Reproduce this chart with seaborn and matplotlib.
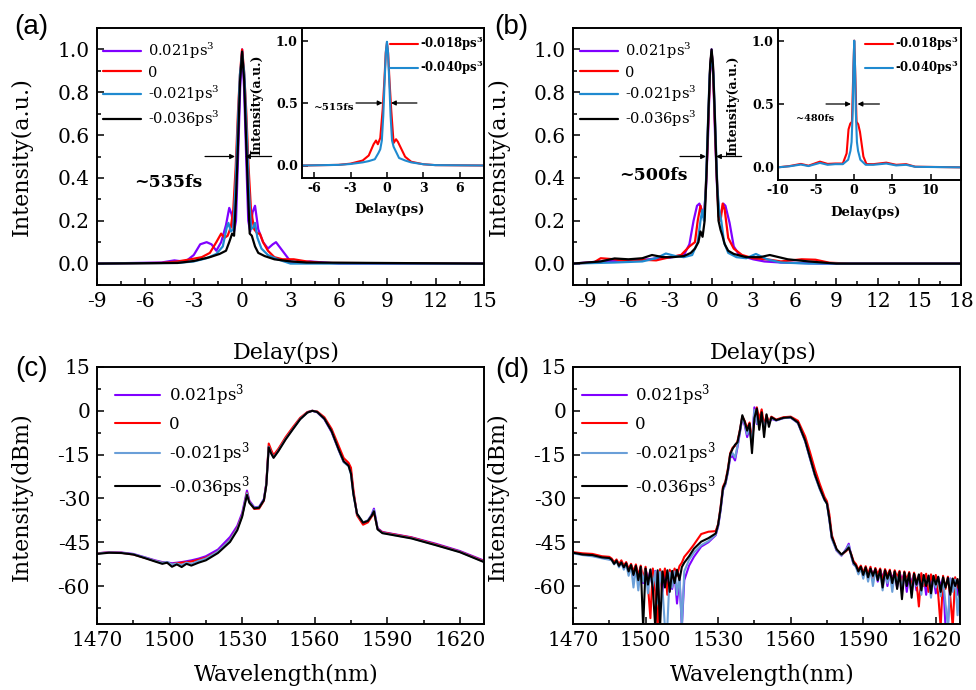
import numpy as np
import pandas as pd
import seaborn as sns
import matplotlib.pyplot as plt
from matplotlib.ticker import MultipleLocator

sns.set_style('ticks')
plt.rcParams['font.family'] = ['DejaVu Serif']
plt.rcParams['mathtext.fontset'] = 'dejavuserif'
plt.rcParams['axes.unicode_minus'] = False
plt.rcParams['text.color'] = 'black'
plt.rcParams['axes.labelcolor'] = 'black'

labels = ['0.021ps$^3$', '0', '-0.021ps$^3$', '-0.036ps$^3$']
colors_ac = ['#8000ff', '#ff0000', '#1f8ad0', '#000000']
colors_sp = ['#8000ff', '#ff0000', '#6a9fd8', '#000000']
inset_labels = [r'-0.018ps$^\mathbf{3}$', r'-0.040ps$^\mathbf{3}$']
inset_colors = ['#ff0000', '#1f8ad0']

# ---- (a) autocorrelation traces
a_x = [
    [-9, -5, -4.2, -3.9, -3.5, -3.0, -2.6, -2.2, -1.9, -1.6, -1.3, -1.0, -0.8, -0.65, -0.5, -0.38, -0.25, -0.12, 0,
     0.12, 0.25, 0.38, 0.5, 0.65, 0.8, 1.0, 1.3, 1.6, 1.9, 2.1, 2.5, 3.0, 3.5, 4.2, 6, 15],
    [-9, -5, -4, -3.2, -2.5, -2.0, -1.6, -1.3, -1.1, -0.9, -0.7, -0.55, -0.4, -0.25, -0.12, 0,
     0.12, 0.25, 0.4, 0.55, 0.75, 0.95, 1.1, 1.3, 1.6, 2.0, 2.5, 3.2, 4, 5, 15],
    [-9, -4, -3, -2.2, -1.6, -1.2, -0.95, -0.85, -0.7, -0.55, -0.4, -0.28, -0.14, 0,
     0.14, 0.28, 0.4, 0.55, 0.7, 0.8, 0.95, 1.2, 1.6, 2.2, 3, 4, 15],
    [-9, -4, -3, -2, -1.4, -1.0, -0.8, -0.62, -0.5, -0.38, -0.26, -0.13, 0,
     0.13, 0.26, 0.38, 0.47, 0.6, 0.8, 1.0, 1.4, 2, 3, 4, 15],
]
a_y = [
    [0.0, 0.005, 0.015, 0.012, 0.01, 0.04, 0.09, 0.10, 0.09, 0.06, 0.10, 0.18, 0.26, 0.23, 0.15, 0.2, 0.5, 0.82, 1.0,
     0.82, 0.5, 0.2, 0.15, 0.24, 0.27, 0.16, 0.10, 0.07, 0.09, 0.10, 0.06, 0.01, 0.005, 0.01, 0.0, 0.0],
    [0.0, 0.003, 0.01, 0.02, 0.03, 0.05, 0.1, 0.14, 0.12, 0.13, 0.17, 0.25, 0.45, 0.72, 0.9, 1.0,
     0.9, 0.72, 0.45, 0.25, 0.16, 0.14, 0.14, 0.1, 0.06, 0.03, 0.02, 0.02, 0.01, 0.003, 0.0],
    [0.0, 0.003, 0.01, 0.025, 0.045, 0.08, 0.17, 0.19, 0.15, 0.16, 0.38, 0.62, 0.88, 0.98,
     0.88, 0.62, 0.38, 0.16, 0.17, 0.19, 0.12, 0.07, 0.04, 0.02, 0.0, 0.0, 0.0],
    [0.0, 0.003, 0.012, 0.03, 0.045, 0.06, 0.1, 0.14, 0.13, 0.3, 0.55, 0.85, 0.99,
     0.85, 0.55, 0.3, 0.14, 0.13, 0.08, 0.05, 0.035, 0.02, 0.01, 0.005, 0.0],
]
ai_x = [
    [-7, -4, -3, -2, -1.5, -1.1, -0.9, -0.75, -0.55, -0.35, -0.2, -0.1, 0,
     0.1, 0.2, 0.35, 0.55, 0.75, 0.9, 1.1, 1.5, 2, 3, 4, 8],
    [-7, -4, -3, -2, -1.5, -1.0, -0.7, -0.55, -0.42, -0.3, -0.18, -0.08, 0,
     0.08, 0.18, 0.3, 0.42, 0.55, 0.7, 1.0, 1.5, 2, 3, 4, 8],
]
ai_y = [
    [0.0, 0.005, 0.015, 0.04, 0.08, 0.17, 0.2, 0.17, 0.22, 0.45, 0.7, 0.9, 0.98,
     0.9, 0.7, 0.45, 0.18, 0.21, 0.19, 0.15, 0.07, 0.03, 0.01, 0.003, 0.0],
    [0.0, 0.005, 0.012, 0.025, 0.035, 0.05, 0.1, 0.13, 0.2, 0.4, 0.7, 0.92, 0.99,
     0.92, 0.7, 0.4, 0.2, 0.15, 0.12, 0.06, 0.04, 0.025, 0.01, 0.003, 0.0],
]

# ---- (b) autocorrelation traces
b_x = [
    [-10, -8, -6, -4.5, -3.5, -3.0, -2.5, -2.0, -1.6, -1.3, -1.05, -0.88, -0.7, -0.55, -0.4, -0.25, -0.12, 0,
     0.12, 0.25, 0.4, 0.55, 0.7, 0.85, 1.0, 1.3, 1.6, 2.0, 2.5, 3.0, 3.8, 5, 8, 18],
    [-10, -8.5, -8, -7, -6, -5, -4, -3, -2.2, -1.6, -1.2, -1.0, -0.8, -0.65, -0.5, -0.35, -0.22, -0.1, 0,
     0.1, 0.22, 0.35, 0.5, 0.65, 0.8, 0.95, 1.2, 1.6, 2.2, 3, 4, 5, 6.5, 7.5, 8.5, 10, 18],
    [-10, -7, -5, -4, -3.3, -2.6, -2.0, -1.4, -1.0, -0.8, -0.67, -0.55, -0.42, -0.28, -0.14, 0,
     0.14, 0.28, 0.42, 0.55, 0.7, 0.9, 1.2, 1.8, 2.5, 3.2, 4, 5, 7, 18],
    [-10, -8, -7, -6, -5, -4.3, -3.5, -2.8, -2.0, -1.5, -1.2, -0.95, -0.8, -0.65, -0.5, -0.35, -0.22, -0.1, 0,
     0.1, 0.22, 0.35, 0.5, 0.65, 0.77, 0.95, 1.2, 1.6, 2.5, 3.5, 4.2, 5.5, 7, 9, 18],
]
b_y = [
    [0.0, 0.01, 0.015, 0.02, 0.03, 0.028, 0.035, 0.04, 0.09, 0.2, 0.27, 0.28, 0.25, 0.23, 0.35, 0.6, 0.88, 1.0,
     0.88, 0.6, 0.35, 0.22, 0.24, 0.28, 0.27, 0.19, 0.08, 0.04, 0.03, 0.02, 0.01, 0.005, 0.0, 0.0],
    [0.0, 0.005, 0.025, 0.02, 0.01, 0.018, 0.015, 0.03, 0.04, 0.08, 0.1, 0.2, 0.27, 0.22, 0.24, 0.45, 0.7, 0.92, 0.99,
     0.92, 0.7, 0.45, 0.22, 0.2, 0.28, 0.25, 0.12, 0.07, 0.04, 0.025, 0.02, 0.01, 0.02, 0.018, 0.004, 0.0, 0.0],
    [0.0, 0.005, 0.01, 0.025, 0.047, 0.035, 0.03, 0.04, 0.1, 0.2, 0.25, 0.2, 0.35, 0.62, 0.88, 0.99,
     0.88, 0.62, 0.35, 0.25, 0.2, 0.1, 0.05, 0.03, 0.025, 0.045, 0.02, 0.005, 0.0, 0.0],
    [0.0, 0.01, 0.024, 0.02, 0.025, 0.04, 0.03, 0.03, 0.035, 0.05, 0.07, 0.1, 0.15, 0.125, 0.2, 0.45, 0.72, 0.93, 1.0,
     0.93, 0.72, 0.45, 0.2, 0.157, 0.133, 0.09, 0.06, 0.045, 0.03, 0.03, 0.04, 0.02, 0.01, 0.0, 0.0],
]
bi_x = [
    [-10, -8.5, -7, -6, -4.5, -3.5, -2.5, -1.5, -1.0, -0.75, -0.52, -0.3, -0.15, 0,
     0.15, 0.3, 0.52, 0.75, 1.2, 1.6, 2.5, 4.2, 5.5, 6.8, 8, 14],
    [-10, -8.5, -7, -6, -4.5, -3.5, -2.5, -1.5, -0.8, -0.5, -0.35, -0.2, -0.1, 0,
     0.1, 0.2, 0.35, 0.5, 0.8, 1.5, 2.5, 4.2, 5.5, 6.8, 8, 14],
]
bi_y = [
    [0.0, 0.01, 0.027, 0.013, 0.045, 0.027, 0.03, 0.03, 0.11, 0.3, 0.345, 0.36, 0.7, 1.0,
     0.7, 0.36, 0.34, 0.28, 0.085, 0.026, 0.025, 0.037, 0.02, 0.025, 0.005, 0.0],
    [0.0, 0.008, 0.022, 0.01, 0.035, 0.02, 0.025, 0.025, 0.06, 0.13, 0.2, 0.45, 0.8, 1.0,
     0.8, 0.45, 0.2, 0.13, 0.06, 0.02, 0.02, 0.03, 0.015, 0.02, 0.004, 0.0],
]

# ---- (c) spectra, dBm
c_wl = [1470, 1475, 1480, 1485, 1490, 1494, 1497, 1499, 1501, 1503, 1505, 1507, 1509, 1512, 1515, 1520, 1525,
        1528, 1530, 1531, 1532, 1533, 1535, 1537, 1539, 1540, 1541, 1542, 1543, 1545, 1548, 1551, 1554, 1557,
        1559, 1561, 1564, 1567, 1570, 1572, 1574, 1575, 1576, 1577.5, 1580, 1582, 1583.5, 1584.5, 1586, 1588,
        1590, 1600, 1610, 1620, 1630]
c_purple = [-48.8, -48.4, -48.5, -49.0, -50.2, -51.2, -51.8, -51.9, -52.2, -52.0, -51.8, -51.5, -51.2, -50.6,
            -49.8, -47.5, -43.2, -39.4, -35.0, -31.2, -27.3, -30.8, -33.0, -32.9, -30.2, -24.8, -12.2, -14.2,
            -15.8, -13.4, -9.4, -6.0, -2.7, -0.5, 0.0, -0.5, -2.9, -7.3, -13.6, -17.5, -18.6, -21.0, -28.0,
            -35.4, -38.5, -37.6, -35.6, -33.5, -40.2, -41.5, -41.8, -43.3, -45.5, -48.0, -51.3]
c_red = [-48.8, -48.5, -48.6, -49.2, -50.4, -51.4, -52.0, -52.1, -52.5, -52.2, -52.0, -51.8, -51.6, -51.0,
         -50.3, -48.2, -44.2, -40.2, -35.8, -32.0, -28.0, -31.2, -33.6, -33.5, -30.8, -25.0, -11.2, -13.4,
         -15.2, -13.0, -9.0, -5.6, -2.4, -0.4, 0.0, -0.2, -2.2, -6.2, -12.2, -16.2, -17.8, -19.5, -27.0,
         -35.8, -39.0, -38.2, -36.3, -34.8, -40.4, -41.6, -41.9, -43.4, -45.7, -48.2, -51.5]
c_blue = [-48.9, -48.5, -48.6, -49.1, -50.3, -51.4, -52.0, -51.8, -52.6, -52.3, -52.8, -52.0, -52.4, -51.4,
          -50.6, -48.2, -44.3, -40.4, -35.9, -32.0, -28.2, -31.3, -33.2, -33.0, -30.5, -25.2, -12.3, -14.4,
          -16.0, -13.6, -9.6, -6.2, -2.8, -0.6, 0.0, -0.4, -2.8, -7.1, -13.6, -17.6, -19.0, -21.8, -28.6,
          -35.3, -38.2, -37.5, -35.8, -34.0, -40.5, -41.8, -42.1, -43.6, -45.9, -48.3, -51.7]
c_black = [-49.0, -48.6, -48.7, -49.2, -50.5, -51.6, -52.4, -52.0, -53.4, -52.6, -53.5, -52.4, -53.0, -52.0,
           -51.2, -48.7, -44.9, -40.9, -36.3, -32.5, -28.8, -31.5, -33.4, -33.2, -30.6, -25.5, -12.5, -14.6,
           -16.1, -13.8, -9.8, -6.3, -2.9, -0.6, 0.0, -0.4, -2.7, -7.0, -13.4, -17.3, -18.8, -21.5, -28.5,
           -35.2, -38.3, -37.7, -36.0, -34.4, -40.6, -41.9, -42.2, -43.7, -46.0, -48.4, -51.8]

# ---- (d) spectra, dBm
d_wl = ([1470, 1474, 1478, 1482, 1485] + list(range(1486, 1517))
        + [1518, 1520, 1523, 1526, 1529, 1530, 1531, 1532, 1533, 1534, 1535, 1536, 1537, 1538, 1539]
        + list(range(1540, 1553))
        + [1554, 1557, 1560, 1563, 1566, 1568, 1570, 1572, 1574, 1575, 1576, 1577, 1579, 1581, 1583, 1584,
           1585, 1586]
        + list(range(1587, 1631)))
d_purple = ([-48.6, -49.2, -49.6, -50.3, -50.8]
            + [-51.0, -52.2, -51.4, -53.0, -52.0, -53.8, -52.4, -55.2, -53.0, -56.4, -53.4, -57.5, -54.0, -59.0,
               -54.2, -58.0, -54.6, -61.5, -54.8, -59.5, -55.0, -62.0, -55.2, -60.0, -55.5, -61.0, -56.0, -66.0,
               -57.0, -74.0, -58.0]
            + [-53.0, -50.0, -46.5, -45.0, -42.6, -39.6, -34.2, -27.2, -25.2, -21.2, -16.0, -15.5, -17.0, -12.5,
               -7.5]
            + [-2.5, -5.0, -9.0, -6.0, -11.0, 1.2, -4.5, -4.0, -2.5, -5.5, -3.0, -4.0, -2.8]
            + [-3.3, -2.5, -2.3, -4.2, -10.4, -16.3, -22.0, -26.6, -30.5, -31.6, -37.2, -43.6, -47.9, -49.6,
               -47.2, -45.5, -49.5, -52.6]
            + [-53.2, -55.5, -53.6, -56.5, -53.8, -57.2, -54.0, -56.0, -54.3, -58.5, -54.5, -57.0, -54.7, -60.0,
               -55.0, -57.5, -55.2, -60.5, -55.4, -58.0, -55.6, -62.0, -55.8, -59.0, -56.0, -61.5, -56.2, -59.0,
               -56.4, -63.0, -56.6, -60.0, -56.8, -62.5, -57.0, -60.0, -57.2, -74.0, -74.0, -57.4, -61.0, -57.6,
               -63.0, -57.8])
d_red = ([-48.4, -48.8, -49.0, -49.8, -50.0]
         + [-50.6, -51.8, -50.9, -52.5, -51.2, -53.0, -51.8, -54.2, -52.4, -55.0, -52.6, -56.5, -53.0, -57.5,
            -53.4, -60.0, -71.0, -54.0, -62.0, -74.0, -54.2, -58.0, -54.0, -63.0, -54.4, -57.5, -54.0, -56.5,
            -53.2, -52.0, -50.0]
         + [-48.0, -45.8, -42.2, -41.4, -41.2, -38.8, -33.0, -26.0, -24.2, -20.0, -14.5, -12.6, -12.0, -10.5,
            -6.5]
         + [-2.0, -3.5, -6.0, -4.0, -10.0, -3.0, 1.2, -3.0, 0.5, -5.0, -1.5, -4.0, -2.0]
         + [-3.0, -2.2, -2.0, -3.4, -8.8, -14.2, -20.0, -25.0, -29.5, -31.0, -35.5, -42.5, -47.6, -49.4, -48.0,
            -47.0, -49.0, -51.5]
         + [-52.5, -54.5, -53.0, -55.5, -53.2, -56.0, -53.4, -57.5, -53.8, -56.0, -54.0, -58.5, -54.2, -56.5,
            -54.4, -59.5, -54.6, -57.0, -54.8, -60.0, -55.0, -58.0, -55.2, -61.0, -55.4, -58.5, -67.0, -55.6,
            -60.0, -55.8, -62.0, -56.0, -59.0, -56.2, -63.0, -74.0, -56.5, -61.0, -56.8, -64.0, -74.0, -57.0,
            -60.5, -57.5])
d_blue = ([-48.8, -49.4, -49.8, -50.5, -51.0]
          + [-51.2, -52.6, -51.5, -53.6, -52.0, -54.4, -52.6, -56.5, -53.0, -60.5, -53.6, -61.5, -54.0, -58.5,
             -54.6, -62.5, -54.5, -60.0, -55.0, -66.0, -55.2, -61.0, -74.0, -74.0, -55.4, -60.5, -55.0, -63.0,
             -56.0, -74.0, -55.0]
          + [-51.0, -48.5, -46.0, -44.6, -42.4, -39.4, -34.0, -27.0, -25.0, -21.0, -15.5, -14.5, -16.0, -12.0,
             -7.2]
          + [-2.2, -4.5, -8.0, -5.5, -12.0, 0.3, -4.0, -5.0, -2.0, -6.0, -2.5, -4.5, -2.5]
          + [-3.3, -2.5, -2.3, -4.2, -10.5, -16.4, -22.2, -26.8, -30.6, -31.9, -37.5, -43.8, -47.8, -49.5,
             -47.5, -46.0, -49.6, -52.5]
          + [-53.5, -56.0, -54.0, -57.5, -54.2, -58.5, -54.5, -60.0, -54.8, -58.0, -55.0, -61.5, -55.2, -59.0,
             -55.4, -62.0, -55.6, -58.5, -55.8, -61.0, -56.0, -59.5, -56.2, -62.5, -56.4, -60.0, -56.5, -63.0,
             -56.6, -59.5, -56.8, -64.0, -57.0, -60.5, -57.2, -63.5, -57.4, -66.0, -74.0, -57.6, -62.0, -57.8,
             -70.0, -58.0])
d_black = ([-48.6, -49.2, -49.4, -50.2, -50.4]
           + [-51.0, -52.4, -51.3, -53.1, -51.9, -53.6, -52.2, -55.0, -52.8, -56.2, -53.1, -58.0, -53.4, -74.0,
              -54.0, -59.5, -54.3, -61.0, -74.0, -54.6, -74.0, -55.0, -60.5, -54.6, -62.0, -54.8, -59.0, -54.4,
              -58.0, -53.5, -52.0]
           + [-49.8, -47.2, -44.8, -43.6, -42.0, -39.0, -33.5, -26.5, -24.6, -20.5, -14.8, -13.0, -11.6, -10.8,
              -6.8]
           + [-1.5, -3.8, -6.8, -4.4, -14.5, -2.5, 0.8, -6.5, -0.5, -9.0, -1.2, -5.5, -2.2]
           + [-3.2, -2.4, -2.2, -4.0, -10.2, -16.0, -21.8, -26.4, -30.4, -31.8, -37.0, -43.2, -47.4, -49.2,
              -47.8, -46.8, -49.2, -52.0]
           + [-53.0, -55.0, -53.4, -56.2, -53.6, -57.0, -54.0, -56.5, -54.2, -58.0, -54.4, -60.5, -54.6, -57.5,
              -54.8, -59.0, -55.0, -61.0, -55.2, -64.5, -55.3, -60.0, -55.6, -64.0, -55.8, -59.5, -56.0, -61.5,
              -56.2, -60.0, -56.4, -62.5, -56.5, -59.5, -56.8, -62.0, -57.0, -60.5, -57.2, -63.0, -57.4, -60.0,
              -57.6, -64.0])

W, H = 976, 690
fig = plt.figure(figsize=(W / 100, H / 100), dpi=100)


def box(l, t, r, b):
    return [l / W, 1 - b / H, (r - l) / W, (b - t) / H]


def style(ax, fs=14.5, bold=False):
    for s in ax.spines.values():
        s.set_linewidth(1.4)
        s.set_color('black')
    ax.tick_params(which='both', direction='in', top=False, right=False, colors='black', width=1.1)
    ax.tick_params(which='major', length=5, pad=5, labelsize=fs)
    ax.tick_params(which='minor', length=3)
    if bold:
        for t in ax.get_xticklabels() + ax.get_yticklabels():
            t.set_fontweight('bold')


def arrows(ax, y, x1, x2, x3, x4):
    kw = dict(arrowstyle='-|>', color='black', lw=0.9, mutation_scale=7, shrinkA=0, shrinkB=0)
    ax.annotate('', xy=(x2, y), xytext=(x1, y), arrowprops=kw)
    ax.annotate('', xy=(x4, y), xytext=(x3, y), arrowprops=kw)


def draw(ax, xs, ys, cols, labs, lw=1.6):
    for x, y, c, lab in zip(xs, ys, cols, labs):
        sns.lineplot(x=x, y=y, ax=ax, color=c, lw=lw, label=lab, sort=False, estimator=None)


# ---------- (a)
ax_a = fig.add_axes(box(97, 28, 484, 285))
draw(ax_a, a_x, a_y, colors_ac, labels)
ax_a.set_xlim(-9, 15)
ax_a.set_ylim(-0.1, 1.1)
ax_a.xaxis.set_major_locator(MultipleLocator(3))
ax_a.xaxis.set_minor_locator(MultipleLocator(1.5))
ax_a.yaxis.set_major_locator(MultipleLocator(0.2))
ax_a.yaxis.set_minor_locator(MultipleLocator(0.1))
ax_a.set_xlabel('Delay(ps)', fontsize=16)
ax_a.set_ylabel('Intensity(a.u.)', fontsize=16)
ax_a.xaxis.set_label_coords(0.49, -0.22)
ax_a.yaxis.set_label_coords(-0.165, 0.5)
style(ax_a)
ax_a.legend(loc='upper left', bbox_to_anchor=(0.015, 0.95), frameon=False, fontsize=10.5, handlelength=2.6,
            handletextpad=0.5, labelspacing=0.3, borderpad=0, borderaxespad=0)
arrows(ax_a, 0.5, -2.3, -0.44, 1.83, 0.18)
ax_a.text(-4.6, 0.38, '~535fs', fontsize=12.5, fontweight='bold', ha='center', va='center')

ax_ai = fig.add_axes(box(302, 28, 484, 178))
draw(ax_ai, ai_x, ai_y, inset_colors, inset_labels, lw=1.5)
ax_ai.set_xlim(-7, 8)
ax_ai.set_ylim(-0.1, 1.1)
ax_ai.xaxis.set_major_locator(MultipleLocator(3))
ax_ai.yaxis.set_major_locator(MultipleLocator(0.5))
style(ax_ai, fs=9, bold=True)
ax_ai.tick_params(which='major', pad=3, length=4)
ax_ai.set_xlabel('Delay(ps)', fontsize=9.5, fontweight='bold')
ax_ai.set_ylabel('Intensity(a.u.)', fontsize=9, fontweight='bold')
ax_ai.xaxis.set_label_coords(0.48, -0.17)
ax_ai.yaxis.set_label_coords(-0.21, 0.49)
ax_ai.legend(loc='upper left', bbox_to_anchor=(0.484, 0.96), frameon=False, handlelength=2.4,
             handletextpad=0.2, labelspacing=0.45, borderpad=0, borderaxespad=0,
             prop={'weight': 'bold', 'size': 8.4})
arrows(ax_ai, 0.5, -2.55, -0.36, 2.47, 0.33)
ax_ai.text(-4.33, 0.46, '~515fs', fontsize=7.5, fontweight='bold', ha='center', va='center')

# ---------- (b)
ax_b = fig.add_axes(box(573, 28, 961, 285))
draw(ax_b, b_x, b_y, colors_ac, labels)
ax_b.set_xlim(-10, 18)
ax_b.set_ylim(-0.1, 1.1)
ax_b.set_xticks(range(-9, 19, 3))
ax_b.xaxis.set_minor_locator(MultipleLocator(1.5))
ax_b.yaxis.set_major_locator(MultipleLocator(0.2))
ax_b.yaxis.set_minor_locator(MultipleLocator(0.1))
ax_b.set_xlabel('Delay(ps)', fontsize=16)
ax_b.set_ylabel('Intensity(a.u.)', fontsize=16)
ax_b.xaxis.set_label_coords(0.49, -0.22)
ax_b.yaxis.set_label_coords(-0.162, 0.5)
style(ax_b)
ax_b.legend(loc='upper left', bbox_to_anchor=(0.018, 0.95), frameon=False, fontsize=10.5, handlelength=2.6,
            handletextpad=0.5, labelspacing=0.3, borderpad=0, borderaxespad=0)
arrows(ax_b, 0.5, -2.28, -0.4, 2.17, 0.32)
ax_b.text(-4.18, 0.413, '~500fs', fontsize=12.5, fontweight='bold', ha='center', va='center')

ax_bi = fig.add_axes(box(778, 28, 961, 180))
draw(ax_bi, bi_x, bi_y, inset_colors, inset_labels, lw=1.5)
ax_bi.set_xlim(-10, 14)
ax_bi.set_ylim(-0.1, 1.1)
ax_bi.xaxis.set_major_locator(MultipleLocator(5))
ax_bi.yaxis.set_major_locator(MultipleLocator(0.5))
style(ax_bi, fs=9, bold=True)
ax_bi.tick_params(which='major', pad=3, length=4)
ax_bi.set_xlabel('Delay(ps)', fontsize=9.5, fontweight='bold')
ax_bi.set_ylabel('Intensity(a.u.)', fontsize=9, fontweight='bold')
ax_bi.xaxis.set_label_coords(0.48, -0.17)
ax_bi.yaxis.set_label_coords(-0.21, 0.49)
ax_bi.legend(loc='upper left', bbox_to_anchor=(0.475, 0.96), frameon=False, handlelength=2.4,
             handletextpad=0.2, labelspacing=0.45, borderpad=0, borderaxespad=0,
             prop={'weight': 'bold', 'size': 8.4})
arrows(ax_bi, 0.5, -3.7, -0.43, 3.3, 0.43)
ax_bi.text(-5.15, 0.384, '~480fs', fontsize=7, fontweight='bold', ha='center', va='center')

# ---------- (c) and (d)
for l, r, wl, series, legx in [(97, 484, c_wl, [c_purple, c_red, c_blue, c_black], 0.047),
                               (573, 960, d_wl, [d_purple, d_red, d_blue, d_black], 0.023)]:
    ax = fig.add_axes(box(l, 367, r, 624))
    draw(ax, [wl] * 4, series, colors_sp, labels, lw=1.5)
    ax.set_xlim(1470, 1630)
    ax.set_ylim(-73, 15)
    ax.xaxis.set_major_locator(MultipleLocator(30))
    ax.xaxis.set_minor_locator(MultipleLocator(15))
    ax.yaxis.set_major_locator(MultipleLocator(15))
    ax.yaxis.set_minor_locator(MultipleLocator(7.5))
    ax.set_xlabel('Wavelength(nm)', fontsize=16)
    ax.set_ylabel('Intensity(dBm)', fontsize=16)
    ax.xaxis.set_label_coords(0.49, -0.155)
    ax.yaxis.set_label_coords(-0.165, 0.494)
    style(ax)
    ax.legend(loc='upper left', bbox_to_anchor=(legx, 0.94), frameon=False, fontsize=12, handlelength=2.7,
              handletextpad=0.5, labelspacing=0.45, borderpad=0, borderaxespad=0)

for x, y, s in [(31, 27, '(a)'), (511, 27, '(b)'), (32, 369, '(c)'), (512, 370, '(d)')]:
    fig.text(x / W, 1 - y / H, s, fontsize=20, family='Liberation Sans', ha='center', va='center')

fig.savefig('out.png', dpi=100)
